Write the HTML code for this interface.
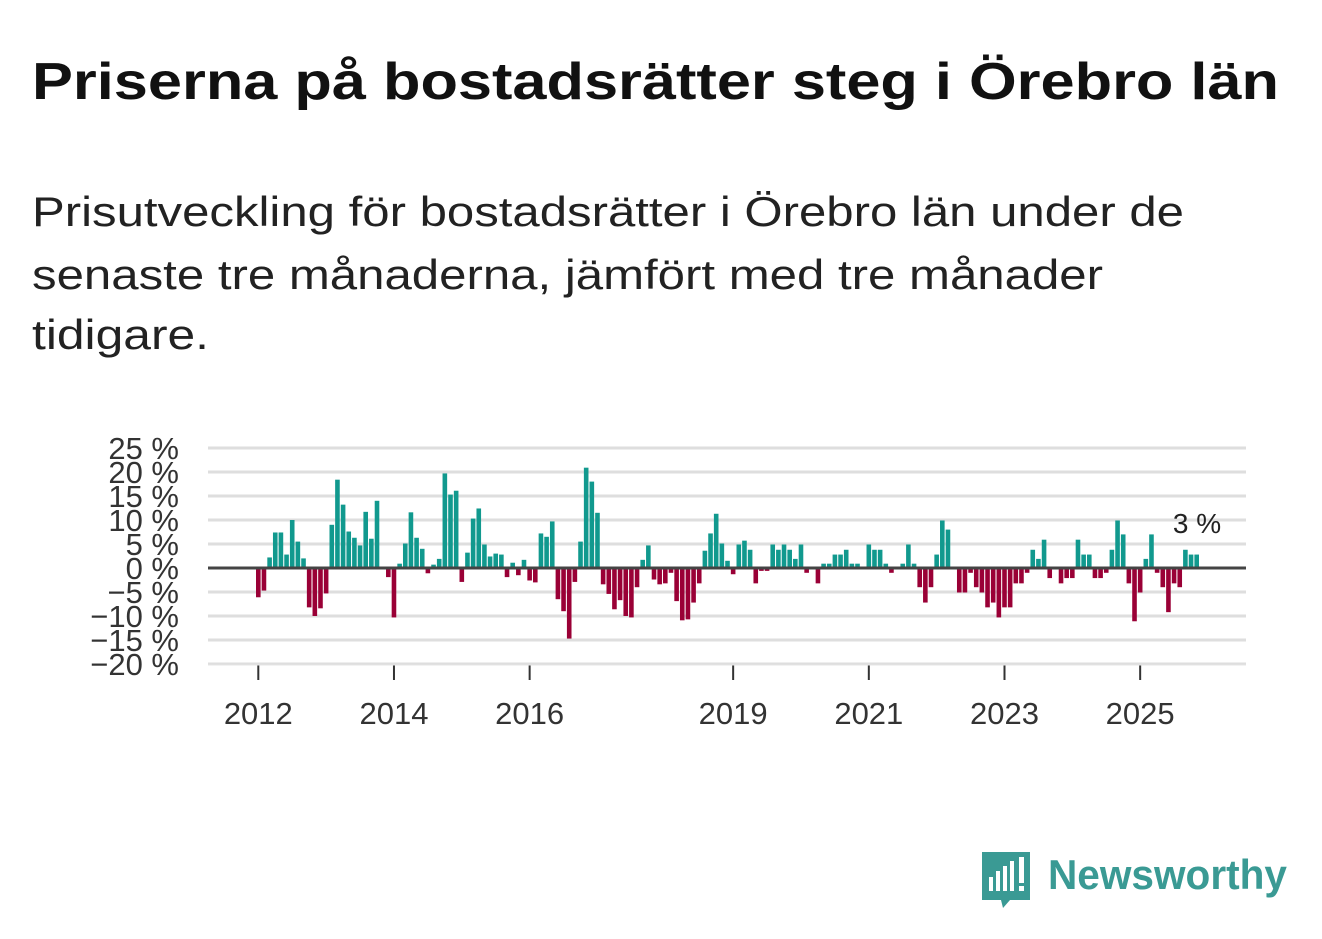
<!DOCTYPE html>
<html><head><meta charset="utf-8"><style>
html,body{margin:0;padding:0;background:#fff;}
svg{display:block;font-family:"Liberation Sans","DejaVu Sans",sans-serif;}
</style></head><body>
<svg id="chart" width="1322" height="939" viewBox="0 0 1322 939" xmlns="http://www.w3.org/2000/svg">
<rect width="1322" height="939" fill="#fff"/>
<text x="32" y="99" font-size="52" font-weight="bold" fill="#111" textLength="1247" lengthAdjust="spacingAndGlyphs">Priserna på bostadsrätter steg i Örebro län</text>
<g font-size="42" fill="#222">
<text x="32" y="226" textLength="1152" lengthAdjust="spacingAndGlyphs">Prisutveckling för bostadsrätter i Örebro län under de</text>
<text x="32" y="289" textLength="1071" lengthAdjust="spacingAndGlyphs">senaste tre månaderna, jämfört med tre månader</text>
<text x="32" y="349" textLength="177" lengthAdjust="spacingAndGlyphs">tidigare.</text>
</g>
<g id="grid"></g>
<g id="ylabels"></g>
<g id="bars"></g>
<g id="xaxis"></g>
<text x="1197" y="533" font-size="28" fill="#222" text-anchor="middle">3 %</text>
<g>
<path d="M982 852 h48 v48 h-20 l-7 8 l-2 -8 h-19 z" fill="#3a9a94"/>
<rect x="989" y="877" width="4" height="14" fill="#fff"/>
<rect x="996" y="871" width="4" height="20" fill="#fff"/>
<rect x="1003" y="866" width="4" height="25" fill="#fff"/>
<rect x="1010" y="861" width="4" height="30" fill="#fff"/>
<rect x="1019" y="857" width="5" height="26" fill="#fff"/>
<rect x="1019" y="886" width="5" height="5" fill="#fff"/>
<text x="1048" y="889" font-size="42" font-weight="bold" fill="#3a9a94" textLength="239" lengthAdjust="spacingAndGlyphs">Newsworthy</text>
</g>
<line x1="208" y1="665" x2="1246" y2="665" stroke="#e4e4e4" stroke-width="1"/>
</svg>
<script>
const values = [-6.1,-4.7,2.2,7.4,7.4,2.8,10,5.5,2,-8.2,-10,-8.4,-5.3,9,18.4,13.2,7.6,6.3,4.7,11.7,6.1,14,0,-1.9,-10.3,0.9,5.1,11.6,6.3,4,-1.1,0.7,1.9,19.7,15.3,16.1,-2.9,3.2,10.3,12.4,4.9,2.4,3,2.8,-1.9,1.1,-1.5,1.7,-2.6,-3,7.2,6.5,9.7,-6.5,-9,-14.7,-2.9,5.5,20.9,18,11.5,-3.4,-5.4,-8.6,-6.7,-10,-10.3,-4,1.7,4.7,-2.4,-3.4,-3.2,-1,-6.9,-10.9,-10.7,-7.2,-3.2,3.6,7.2,11.3,5.1,1.5,-1.3,4.9,5.7,3.8,-3.2,-0.6,-0.6,4.9,3.8,4.9,3.8,1.9,4.9,-1,0,-3.2,0.9,0.9,2.8,2.8,3.8,0.9,0.9,0,4.9,3.8,3.8,0.9,-1,0,0.9,4.9,0.9,-4,-7.2,-4,2.8,9.9,8,0,-5.1,-5.1,-1,-4,-5.1,-8.2,-7.2,-10.3,-8.2,-8.2,-3.2,-3.2,-1,3.8,1.9,5.9,-2.1,0,-3.2,-2.1,-2.1,5.9,2.8,2.8,-2.1,-2.1,-1,3.8,9.9,7,-3.2,-11.1,-5.1,1.9,7,-1,-4,-9.2,-3.2,-4,3.8,2.8,2.8];
const startYear = 2012;
const yTicks = [25,20,15,10,5,0,-5,-10,-15,-20];
const xTickYears = [2012,2014,2016,2019,2021,2023,2025];

const NS = "http://www.w3.org/2000/svg";
const yScale = v => 568 - v * 4.8;
const monthX = i => 258.3 + i * 5.653;
const yearX = y => monthX((y - startYear) * 12);

const grid = document.getElementById('grid');
const yl = document.getElementById('ylabels');
yTicks.forEach(t => {
  if (t !== 0) {
    const l = document.createElementNS(NS, 'line');
    
    
    l.setAttribute('x1', 208); l.setAttribute('x2', 1246);
    l.setAttribute('y1', yScale(t)); l.setAttribute('y2', yScale(t));
    l.setAttribute('stroke', '#dedede'); l.setAttribute('stroke-width', 3);
    grid.appendChild(l);
  }
  const tx = document.createElementNS(NS, 'text');
  
  
  tx.setAttribute('x', 179); tx.setAttribute('y', yScale(t) + 11);
  tx.setAttribute('text-anchor', 'end'); tx.setAttribute('font-size', 31);
  tx.setAttribute('fill', '#333');
  tx.textContent = (t < 0 ? '\u2212' + (-t) : t) + ' %';
  yl.appendChild(tx);
});

const bars = document.getElementById('bars');
values.forEach((v, i) => {
  if (v === 0) return;
  const r = document.createElementNS(NS, 'rect');
  
  
  const y0 = yScale(0), y1 = yScale(v);
  r.setAttribute('x', monthX(i) - 2.3);
  r.setAttribute('width', 4.6);
  r.setAttribute('y', Math.min(y0, y1));
  r.setAttribute('height', Math.abs(y1 - y0));
  r.setAttribute('fill', v > 0 ? '#11998e' : '#9a0036');
  bars.appendChild(r);
});
const zl = document.createElementNS(NS, 'line');


zl.setAttribute('x1', 208); zl.setAttribute('x2', 1246);
zl.setAttribute('y1', yScale(0)); zl.setAttribute('y2', yScale(0));
zl.setAttribute('stroke', '#444'); zl.setAttribute('stroke-width', 3);
bars.appendChild(zl);

const xa = document.getElementById('xaxis');
xTickYears.forEach(y => {
  const x = yearX(y);
  const tk = document.createElementNS(NS, 'line');
  
  
  tk.setAttribute('x1', x); tk.setAttribute('x2', x);
  tk.setAttribute('y1', 665); tk.setAttribute('y2', 680);
  tk.setAttribute('stroke', '#333'); tk.setAttribute('stroke-width', 2);
  xa.appendChild(tk);
  const tx = document.createElementNS(NS, 'text');
  
  
  tx.setAttribute('x', x); tx.setAttribute('y', 724);
  tx.setAttribute('text-anchor', 'middle'); tx.setAttribute('font-size', 31);
  tx.setAttribute('fill', '#333');
  tx.textContent = y;
  xa.appendChild(tx);
});
</script>
</body></html>
